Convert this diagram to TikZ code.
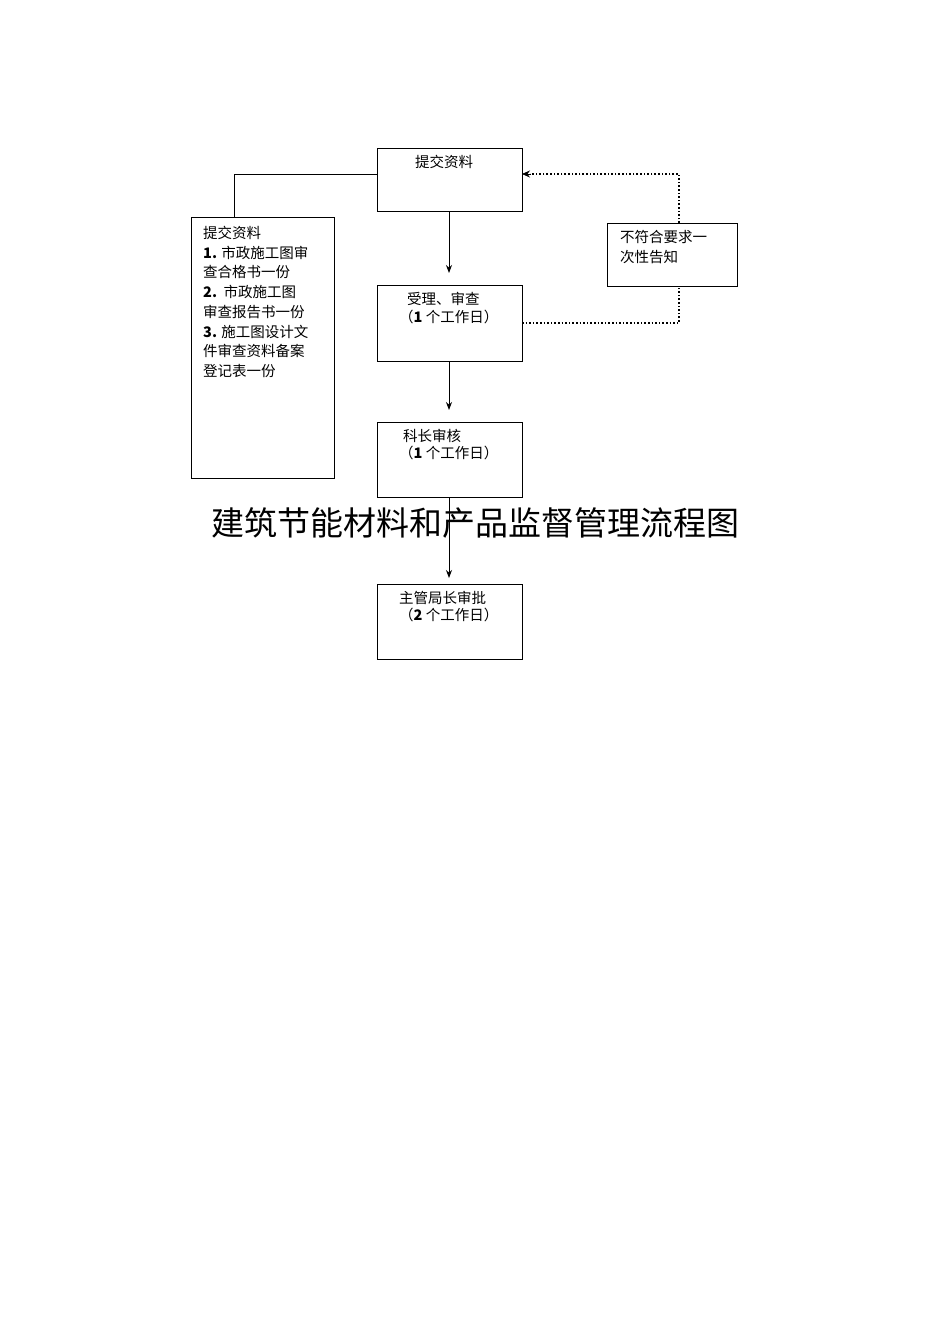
\documentclass[tikz,border=0pt]{standalone}
\usepackage{fontspec}
\newfontfamily\cjk{Noto Sans CJK SC}
\usetikzlibrary{arrows.meta}
\begin{document}
\begin{tikzpicture}[x=1pt,y=-1pt,
  box/.style={draw,line width=1pt},
  txt/.style={anchor=north west,font=\cjk\fontsize{14.5}{19.7}\selectfont,align=left,inner sep=0pt},
  arr/.style={-{Stealth[length=8pt,width=6pt]},line width=0.8pt},
  dot/.style={dotted,line width=1.6pt}]
\useasboundingbox (0,0) rectangle (950,1344);
\draw[box] (377,148) rectangle (522,211) coordinate (b1);
\draw[box] (191,217) rectangle (334,478);
\draw[box] (377,285) rectangle (522,361);
\draw[box] (377,422) rectangle (522,497);
\draw[box] (377,584) rectangle (522,659);
\draw[box] (607,223) rectangle (737,286);
\node[txt] (t1) at (415,155) {提交资料};
\node[txt] (tl) at (203,226) {提交资料\\\textbf{1.} 市政施工图审\\查合格书一份\\\textbf{2.}\ \ 市政施工图\\审查报告书一份\\\textbf{3.} 施工图设计文\\件审查资料备案\\登记表一份};
\node[txt] (t2) at (407,292) {受理、审查};
\node[txt] (t2b) at (399,310) {（\textbf{1} 个工作日）};
\node[txt] (t3) at (403,429) {科长审核};
\node[txt] (t3b) at (399,446) {（\textbf{1} 个工作日）};
\node[txt] (t4) at (399,591) {主管局长审批};
\node[txt] (t4b) at (399,608) {（\textbf{2} 个工作日）};
\node[txt] (tr) at (620,230) {不符合要求一\\次性告知};
\node[font=\cjk\fontsize{33}{33}\selectfont] (title) at (475,523) {建筑节能材料和产品监督管理流程图};
\draw[line width=0.8pt] (234,217) -- (234,174) -- (377,174);
\draw[arr] (449,211) -- (449,273);
\draw[arr] (449,361) -- (449,410);
\draw[arr] (449,497) -- (449,578);
\draw[dot] (522,323) -- (679,323) -- (679,286);
\draw[dot] (679,223) -- (679,174) -- (530,174);
\draw[-{Stealth[length=8pt,width=7pt]},line width=0.8pt] (531,174) -- (522,174);
\end{tikzpicture}
\end{document}
